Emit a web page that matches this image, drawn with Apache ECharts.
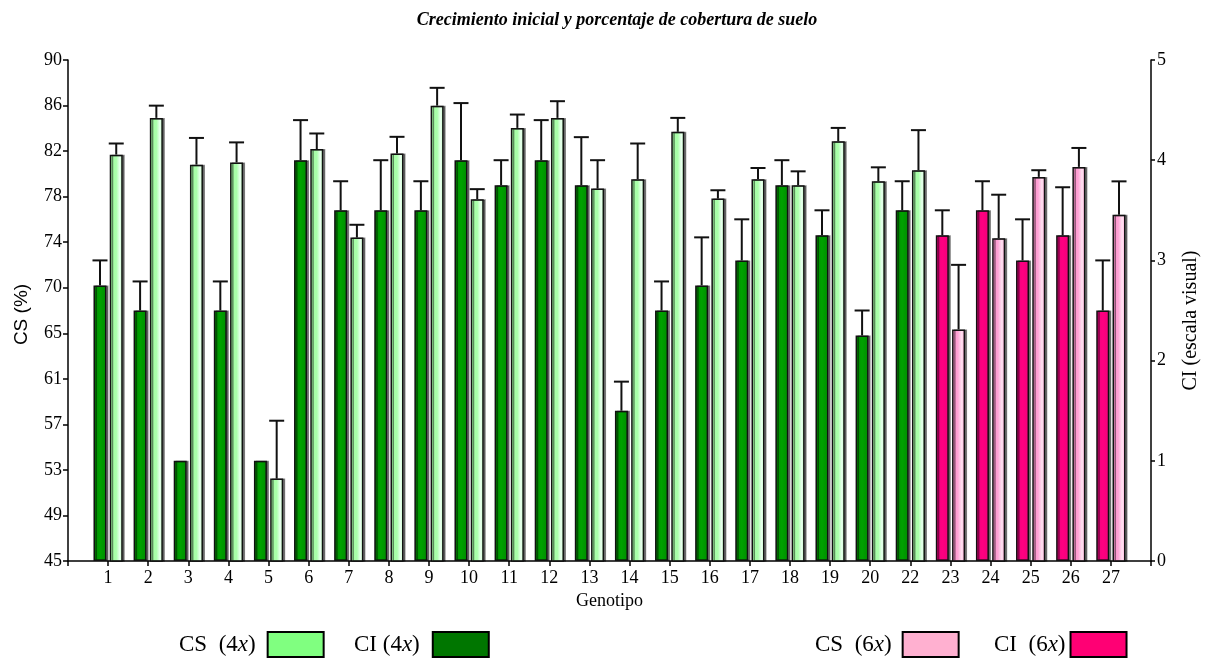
<!DOCTYPE html>
<html>
<head>
<meta charset="utf-8">
<script src="https://cdn.jsdelivr.net/npm/echarts@6/dist/echarts.min.js"></script>
<style>
  html, body { margin: 0; padding: 0; background: #fff; }
  #chart { width: 1209px; height: 659px; }
</style>
</head>
<body>
<div id="chart"></div>
<script>
// Genotypes (18 -> 20, then 22 onward; 21 is absent)
const genotypes = ['1','2','3','4','5','6','7','8','9','10','11','12','13','14','15','16','17','18','19','20','22','23','24','25','26','27'];
const ploidy = ['4x','4x','4x','4x','4x','4x','4x','4x','4x','4x','4x','4x','4x','4x','4x','4x','4x','4x','4x','4x','4x','6x','6x','6x','6x','6x'];

// CI: initial growth, visual scale 0-5 (right axis)
const ciValues = [2.75, 2.5, 1.0, 2.5, 1.0, 4.0, 3.5, 3.5, 3.5, 4.0, 3.75, 4.0, 3.75, 1.5, 2.5, 2.75, 3.0, 3.75, 3.25, 2.25, 3.5, 3.25, 3.5, 3.0, 3.25, 2.5];
const ciErrors = [0.25, 0.29, 0, 0.29, 0, 0.40, 0.29, 0.50, 0.29, 0.57, 0.25, 0.40, 0.48, 0.29, 0.29, 0.48, 0.41, 0.25, 0.25, 0.25, 0.29, 0.25, 0.29, 0.41, 0.48, 0.50];

// CS: soil cover, % (left axis)
const csValues = [81.5, 84.8, 80.6, 80.8, 52.4, 82.0, 74.05, 81.6, 85.9, 77.5, 83.9, 84.8, 78.45, 79.3, 83.55, 77.55, 79.3, 78.75, 82.7, 79.1, 80.1, 65.8, 74.0, 79.5, 80.4, 76.1];
const csErrors = [1.0, 1.1, 2.4, 1.8, 5.2, 1.4, 1.15, 1.5, 1.6, 0.9, 1.2, 1.5, 2.55, 3.2, 1.25, 0.75, 1.0, 1.25, 1.2, 1.26, 3.6, 5.8, 3.9, 0.6, 1.7, 3.0];

// Axis tick labels
const csTickLabels = ['45','49','53','57','61','65','70','74','78','82','86','90'];
const ciTickLabels = ['0','1','2','3','4','5'];

const SERIF = '"Liberation Serif", "Times New Roman", serif';
const SANS = '"Liberation Sans", Arial, sans-serif';
const BAR_W = 13;
const BAR_GAP = 3.25;
const OFFSET = (BAR_W + BAR_GAP) / 2;

// Empty slots at both ends so the genotypes sit on the inner ticks
const axisCategories = [''].concat(genotypes, ['']);

function byPloidy(values, which) {
  return [null].concat(values.map((v, i) => ploidy[i] === which ? v : null), [null]);
}

function hGrad(stops) {
  return { type: 'linear', x: 0, y: 0, x2: 1, y2: 0,
    colorStops: stops.map(s => ({ offset: s[0], color: s[1] })) };
}

const fills = {
  ci4: hGrad([[0, '#004f00'], [0.18, '#009400'], [0.5, '#00a200'], [1, '#008c00']]),
  cs4: hGrad([[0, '#a4ffa4'], [0.5, '#aaffaa'], [0.78, '#eafff0'], [1, '#b2ffb2']]),
  ci6: hGrad([[0, '#b0005c'], [0.18, '#f50080'], [0.5, '#ff0080'], [1, '#f0007a']]),
  cs6: hGrad([[0, '#ff8ccb'], [0.45, '#ffa4d6'], [0.75, '#ffe4f2'], [1, '#ff9bd0']])
};

function barSeries(name, yIdx, stack, data, fill) {
  return {
    name: name,
    type: 'bar',
    yAxisIndex: yIdx,
    stack: stack,
    data: data,
    barWidth: BAR_W,
    barGap: (BAR_GAP / BAR_W * 100) + '%',
    clip: true,
    itemStyle: {
      color: fill,
      borderColor: '#111',
      borderWidth: 1.5,
      shadowColor: 'rgba(0,0,0,0.45)',
      shadowOffsetX: 2,
      shadowOffsetY: 0,
      shadowBlur: 0
    },
    emphasis: { disabled: true }
  };
}

function errorSeries(values, errors, yIdx, dx) {
  const data = [];
  values.forEach((v, i) => {
    if (errors[i] > 0) data.push([i + 1, v, v + errors[i]]);
  });
  return {
    type: 'custom',
    yAxisIndex: yIdx,
    z: 5,
    silent: true,
    encode: { x: 0, y: [1, 2] },
    data: data,
    renderItem: function (params, api) {
      const base = api.coord([api.value(0), api.value(1)]);
      const top = api.coord([api.value(0), api.value(2)]);
      const cx = base[0] + dx;
      const half = 7.5;
      return {
        type: 'group',
        children: [
          { type: 'line', shape: { x1: cx, y1: base[1], x2: cx, y2: top[1] },
            style: { stroke: '#111', lineWidth: 2 } },
          { type: 'line', shape: { x1: cx - half, y1: top[1], x2: cx + half, y2: top[1] },
            style: { stroke: '#111', lineWidth: 2 } }
        ]
      };
    }
  };
}

// One legend block per entry: label text, then a framed swatch
function legendEntry(name, label, left, spacer, swatch) {
  return {
    left: left, top: 626, align: 'right', orient: 'horizontal',
    itemWidth: 56, itemHeight: 25, icon: 'rect',
    selectedMode: false,
    formatter: () => label.replace('x)', '{i|x})') + '{s|}',
    textStyle: {
      color: '#000', fontFamily: SERIF, fontSize: 23,
      rich: {
        i: { fontFamily: SERIF, fontSize: 23, fontStyle: 'italic', color: '#000' },
        s: { width: spacer }
      }
    },
    data: [{ name: name, itemStyle: { color: swatch, borderColor: '#000', borderWidth: 2 } }]
  };
}

const option = {
  animation: false,
  backgroundColor: '#fff',
  title: {
    text: 'Crecimiento inicial y porcentaje de cobertura de suelo',
    left: 612,
    top: 6,
    textAlign: 'center',
    textStyle: { fontFamily: SERIF, fontStyle: 'italic', fontWeight: 'bold', fontSize: 18, color: '#000' }
  },
  legend: [
    legendEntry('CS (4x)', 'CS  (4x)', 174, 7, '#80ff80'),
    legendEntry('CI (4x)', 'CI (4x)', 349, 8, '#007600'),
    legendEntry('CS (6x)', 'CS  (6x)', 810, 6, '#ffb0d0'),
    legendEntry('CI (6x)', 'CI  (6x)', 989, 0, '#ff0074')
  ],
  grid: { left: 68, right: 52, top: 60, bottom: 98, containLabel: false },
  xAxis: {
    type: 'category',
    boundaryGap: false,
    data: axisCategories,
    name: 'Genotipo',
    nameLocation: 'middle',
    nameGap: 31,
    nameTextStyle: { fontFamily: SERIF, fontSize: 18, color: '#000' },
    axisLine: { lineStyle: { color: '#000', width: 1.5 } },
    axisTick: { show: true, length: 5, interval: 0, lineStyle: { color: '#000', width: 1.5 } },
    axisLabel: { interval: 0, fontFamily: SERIF, fontSize: 18, color: '#000', margin: 8 },
    splitLine: { show: false }
  },
  yAxis: [
    {
      type: 'value',
      position: 'left',
      min: 45,
      max: 90,
      interval: 45 / 11,
      name: 'CS (%)',
      nameLocation: 'middle',
      nameRotate: 90,
      nameGap: 37,
      nameTextStyle: { fontFamily: SANS, fontSize: 19, color: '#000', padding: [0, 8, 0, 0] },
      axisLine: { show: true, lineStyle: { color: '#000', width: 1.5 } },
      axisTick: { show: true, length: 5, lineStyle: { color: '#000', width: 1.5 } },
      axisLabel: {
        fontFamily: SERIF, fontSize: 18, color: '#000', margin: 6,
        formatter: (v, idx) => csTickLabels[idx] !== undefined ? csTickLabels[idx] : ''
      },
      splitLine: { show: false }
    },
    {
      type: 'value',
      position: 'right',
      min: 0,
      max: 5,
      interval: 1,
      name: 'CI (escala visual)',
      nameLocation: 'middle',
      nameRotate: 90,
      nameGap: 30,
      nameTextStyle: { fontFamily: SERIF, fontSize: 20, color: '#000', padding: [0, 20, 0, 0] },
      axisLine: { show: true, lineStyle: { color: '#000', width: 1.5 } },
      axisTick: { show: true, length: 4, lineStyle: { color: '#000', width: 1.5 } },
      axisLabel: {
        fontFamily: SERIF, fontSize: 18, color: '#000', margin: 6,
        formatter: (v, idx) => ciTickLabels[idx] !== undefined ? ciTickLabels[idx] : ''
      },
      splitLine: { show: false }
    }
  ],
  series: [
    barSeries('CI (4x)', 1, 'ci', byPloidy(ciValues, '4x'), fills.ci4),
    barSeries('CS (4x)', 0, 'cs', byPloidy(csValues, '4x'), fills.cs4),
    barSeries('CI (6x)', 1, 'ci', byPloidy(ciValues, '6x'), fills.ci6),
    barSeries('CS (6x)', 0, 'cs', byPloidy(csValues, '6x'), fills.cs6),
    errorSeries(ciValues, ciErrors, 1, -OFFSET),
    errorSeries(csValues, csErrors, 0, OFFSET)
  ]
};

const chart = echarts.init(document.getElementById('chart'), null, { renderer: 'canvas' });
chart.setOption(option);
</script>
</body>
</html>
